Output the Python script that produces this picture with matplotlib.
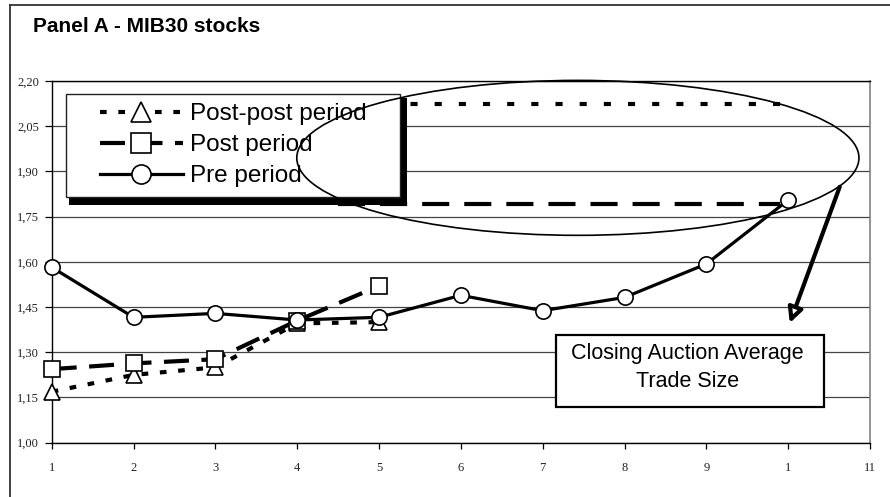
import matplotlib
matplotlib.use('Agg')
import matplotlib.pyplot as plt
from matplotlib.patches import Ellipse, Rectangle
from matplotlib.lines import Line2D
from matplotlib.ticker import FuncFormatter

# Data
x = [1, 2, 3, 4, 5, 6, 7, 8, 9, 10]
pre_period = [1.582, 1.416, 1.429, 1.407, 1.416, 1.489, 1.438, 1.482, 1.593, 1.805]
post_x = [1, 2, 3, 4, 5]
post_period = [1.244, 1.263, 1.277, 1.405, 1.520]
postpost_x = [1, 2, 3, 4, 5]
postpost_period = [1.169, 1.225, 1.250, 1.396, 1.400]
xtick_pos = [1, 2, 3, 4, 5, 6, 7, 8, 9, 10, 11]
xtick_labels = ['1', '2', '3', '4', '5', '6', '7', '8', '9', '1', '11']
yticks = [1.00, 1.15, 1.30, 1.45, 1.60, 1.75, 1.90, 2.05, 2.20]

W, H = 890, 497
fig = plt.figure(figsize=(W / 100, H / 100), dpi=100)
fig.patch.set_facecolor('white')

# axes box in pixels: x 51.7..870, y 81..442.7
ax_l, ax_r, ax_t, ax_b = 51.7, 870.0, 81.0, 442.7
ax = fig.add_axes([ax_l / W, 1 - ax_b / H, (ax_r - ax_l) / W, (ax_b - ax_t) / H])


def axfrac(px, py):
    return (px - ax_l) / (ax_r - ax_l), (ax_b - py) / (ax_b - ax_t)


ax.set_xlim(1, 11)
ax.set_ylim(1.0, 2.2)
ax.set_yticks(yticks)
ax.set_xticks(xtick_pos)
ax.set_xticklabels(xtick_labels)
ax.yaxis.set_major_formatter(FuncFormatter(lambda v, p: f'{v:.2f}'.replace('.', ',')))
ax.yaxis.grid(True, color='#444444', lw=0.9)
ax.set_axisbelow(True)
for s in ['left', 'bottom', 'top']:
    ax.spines[s].set_color('black')
    ax.spines[s].set_linewidth(1.0)
ax.spines['right'].set_color('#808080')
ax.spines['right'].set_linewidth(1.2)
ax.tick_params(axis='y', length=5, width=0.9, pad=4, labelsize=9)
ax.tick_params(axis='x', length=4, width=0.9, pad=10, labelsize=9)
for lab in ax.get_xticklabels() + ax.get_yticklabels():
    lab.set_family('Liberation Serif')
    lab.set_color('#222222')

# series
ms = 11
l_pp, = ax.plot(postpost_x, postpost_period, color='black', lw=3, dashes=(1.6, 2.8),
                marker='^', ms=ms, mfc='white', mec='black', mew=1.2,
                clip_on=False, zorder=3, label='Post-post period')
l_p, = ax.plot(post_x, post_period, color='black', lw=3, dashes=(6, 3),
               marker='s', ms=ms, mfc='white', mec='black', mew=1.2,
               clip_on=False, zorder=3.1, label='Post period')
l_pre, = ax.plot(x, pre_period, color='black', lw=2.3,
                 marker='o', ms=ms, mfc='white', mec='black', mew=1.2,
                 clip_on=False, zorder=3.2, label='Pre period')

# hand-drawn guide lines (partly hidden by legend)
ax.plot([4.5, 9.98], [2.124, 2.124], color='black', lw=3, dashes=(1.7, 4.1), zorder=2.5)
ax.plot([4.5, 9.9], [1.792, 1.792], color='black', lw=3, dashes=(6.5, 3.6), zorder=2.5)

# legend box with shadow
bx0, by0 = axfrac(65.7, 197)
bx1, by1 = axfrac(400, 94)
sx0, sy0 = axfrac(69, 205)
sx1, sy1 = axfrac(407, 98)
ax.add_patch(Rectangle((sx0, sy0), sx1 - sx0, sy1 - sy0, transform=ax.transAxes,
                       fc='black', ec='none', zorder=4.7))
ax.add_patch(Rectangle((bx0, by0), bx1 - bx0, by1 - by0, transform=ax.transAxes,
                       fc='white', ec='#222222', lw=1.0, zorder=4.8))
lx, ly = axfrac(100, 103)
leg = ax.legend(handles=[l_pp, l_p, l_pre], loc='upper left', bbox_to_anchor=(lx, ly),
                frameon=False, borderpad=0, borderaxespad=0, handlelength=3.4,
                handletextpad=0.3, labelspacing=0.37, markerscale=1.25,
                prop={'family': 'Liberation Sans', 'size': 17.5})
leg.set_zorder(5)

# ellipse highlighting the closing auction
ax.add_patch(Ellipse((7.43, 1.945), 6.87, 0.514, fill=False, ec='black', lw=1.2,
                     clip_on=False, zorder=6))

# arrow to the text box
ax.annotate('', xy=(10.02, 1.397), xytext=(10.63, 1.849),
            arrowprops=dict(arrowstyle='-|>', lw=3, fc='white', ec='black',
                            mutation_scale=22, shrinkA=0, shrinkB=0), zorder=6)

# text box
ax.add_patch(Rectangle((7.161, 1.118), 10.436 - 7.161, 1.357 - 1.118,
                       fc='white', ec='black', lw=1.6, zorder=5))
ax.text(8.77, 1.25, 'Closing Auction Average\nTrade Size', ha='center', va='center',
        family='Liberation Sans', fontsize=15.5, zorder=5.5, linespacing=1.45)

# title and outer frame
fig.text(33 / W, 1 - 27 / H, 'Panel A - MIB30 stocks', ha='left', va='center',
         family='Liberation Sans', weight='bold', fontsize=15)
fig.add_artist(Line2D([10 / W, 1], [1 - 5 / H, 1 - 5 / H], color='#333333', lw=1.3))
fig.add_artist(Line2D([10 / W, 10 / W], [0, 1 - 5 / H], color='#333333', lw=1.3))

fig.savefig('out.png', dpi=100)
